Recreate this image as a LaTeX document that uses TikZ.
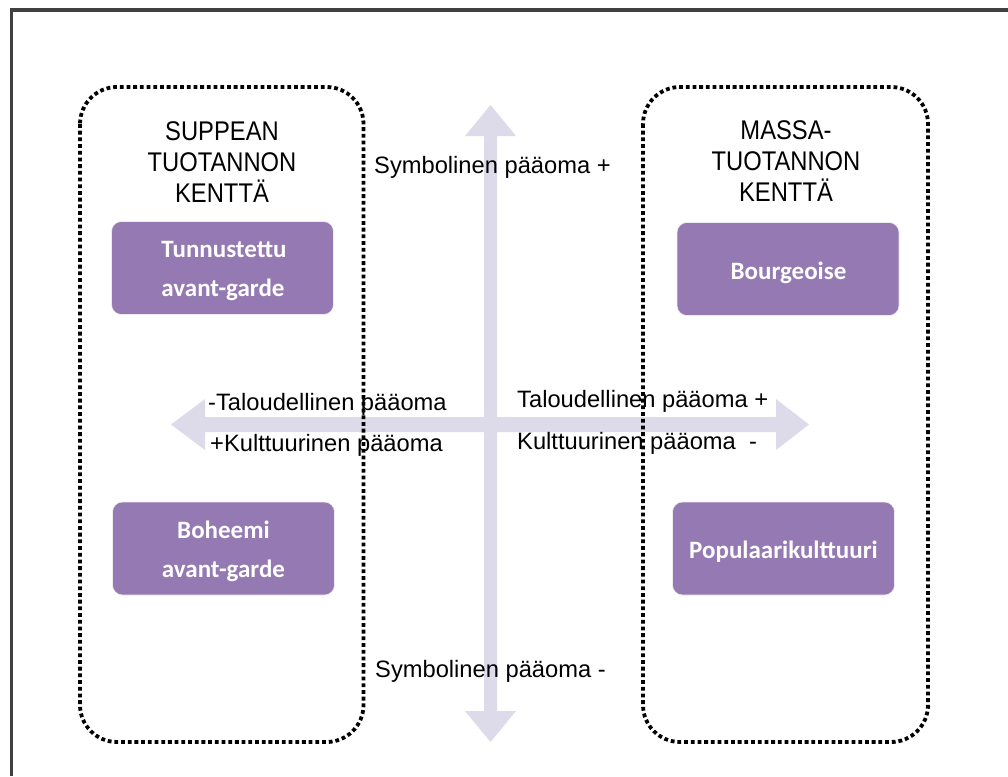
\documentclass[tikz,border=0pt]{standalone}
\usepackage{fontspec}
\setmainfont{Liberation Sans}
\newfontfamily\headfont[FakeStretch=0.88]{Liberation Sans}
\newfontfamily\boxfont{Carlito}
\definecolor{arrowc}{RGB}{221,219,233}
\definecolor{boxc}{RGB}{148,121,178}
\definecolor{framec}{RGB}{64,64,64}
\tikzset{
  axislabel/.style={anchor=base west, inner sep=0pt, font=\fontsize{23.7}{28}\selectfont},
  headline/.style={anchor=base, inner sep=0pt, font=\headfont\fontsize{27}{31}\selectfont},
  fieldbox/.style={draw=black, line width=3.8pt, dash pattern=on 3.8pt off 2.9pt, rounded corners=37pt},
  purplebox/.style={fill=boxc, draw=white!85!boxc, line width=0.6pt, rounded corners=10pt,
    minimum width=222pt, minimum height=93pt, inner sep=0pt},
  boxtext/.style={anchor=base, inner sep=0pt, text=white,
    font=\boxfont\bfseries\fontsize{25}{30}\selectfont},
}
\begin{document}
\begin{tikzpicture}[x=1pt,y=-1pt]
\useasboundingbox (0,0) rectangle (1008,776);
% outer frame (only top and left visible)
\draw[framec, line width=3.2pt] (1008,10) -- (11.5,10) -- (11.5,776);
% vertical double arrow
\fill[arrowc] (490.5,105) -- (516,136) -- (497,136) -- (497,711) -- (516,711) -- (490.5,742)
  -- (465,711) -- (484,711) -- (484,136) -- (465,136) -- cycle;
% horizontal double arrow
\fill[arrowc] (171,424.5) -- (205,399) -- (205,417) -- (776,417) -- (776,399) -- (809,424.5)
  -- (776,450) -- (776,432) -- (205,432) -- (205,450) -- cycle;
% axis labels
\node[axislabel] (symplus) at (374,173) {Symbolinen pääoma +};
\node[axislabel] (symminus) at (375,677) {Symbolinen pääoma -};
\node[axislabel] (talminus) at (208,410) {-Taloudellinen pääoma};
\node[axislabel] (kulplus) at (210,451) {+Kulttuurinen pääoma};
\node[axislabel] (talplus) at (517,407) {Taloudellinen pääoma +};
\node[axislabel] (kulminus) at (517,449) {Kulttuurinen pääoma\ \ -};
% field boxes
\draw[fieldbox] (80,87) rectangle (363.5,742);
\draw[fieldbox] (643,87) rectangle (928,742);
% headings
\node[headline] (lh1) at (222,140) {SUPPEAN};
\node[headline] (lh2) at (222,171) {TUOTANNON};
\node[headline] (lh3) at (222,202) {KENTTÄ};
\node[headline] (rh1) at (786,139) {MASSA-};
\node[headline] (rh2) at (786,170) {TUOTANNON};
\node[headline] (rh3) at (786,201) {KENTTÄ};
% purple boxes
\node[purplebox] (tunnustettu) at (222.5,268) {};
\node[boxtext] (tunnustettu1) at (224,257) {Tunnustettu};
\node[boxtext] (tunnustettu2) at (223,296) {avant-garde};
\node[purplebox] (bourgeoise) at (788,269) {};
\node[boxtext] (bourgeoise1) at (788.5,279) {Bourgeoise};
\node[purplebox] (boheemi) at (223.5,548.5) {};
\node[boxtext] (boheemi1) at (223.5,538) {Boheemi};
\node[boxtext] (boheemi2) at (223.5,577) {avant-garde};
\node[purplebox] (populaari) at (783.5,548.5) {};
\node[boxtext] (populaari1) at (783.5,558) {Populaarikulttuuri};
\end{tikzpicture}
\end{document}
